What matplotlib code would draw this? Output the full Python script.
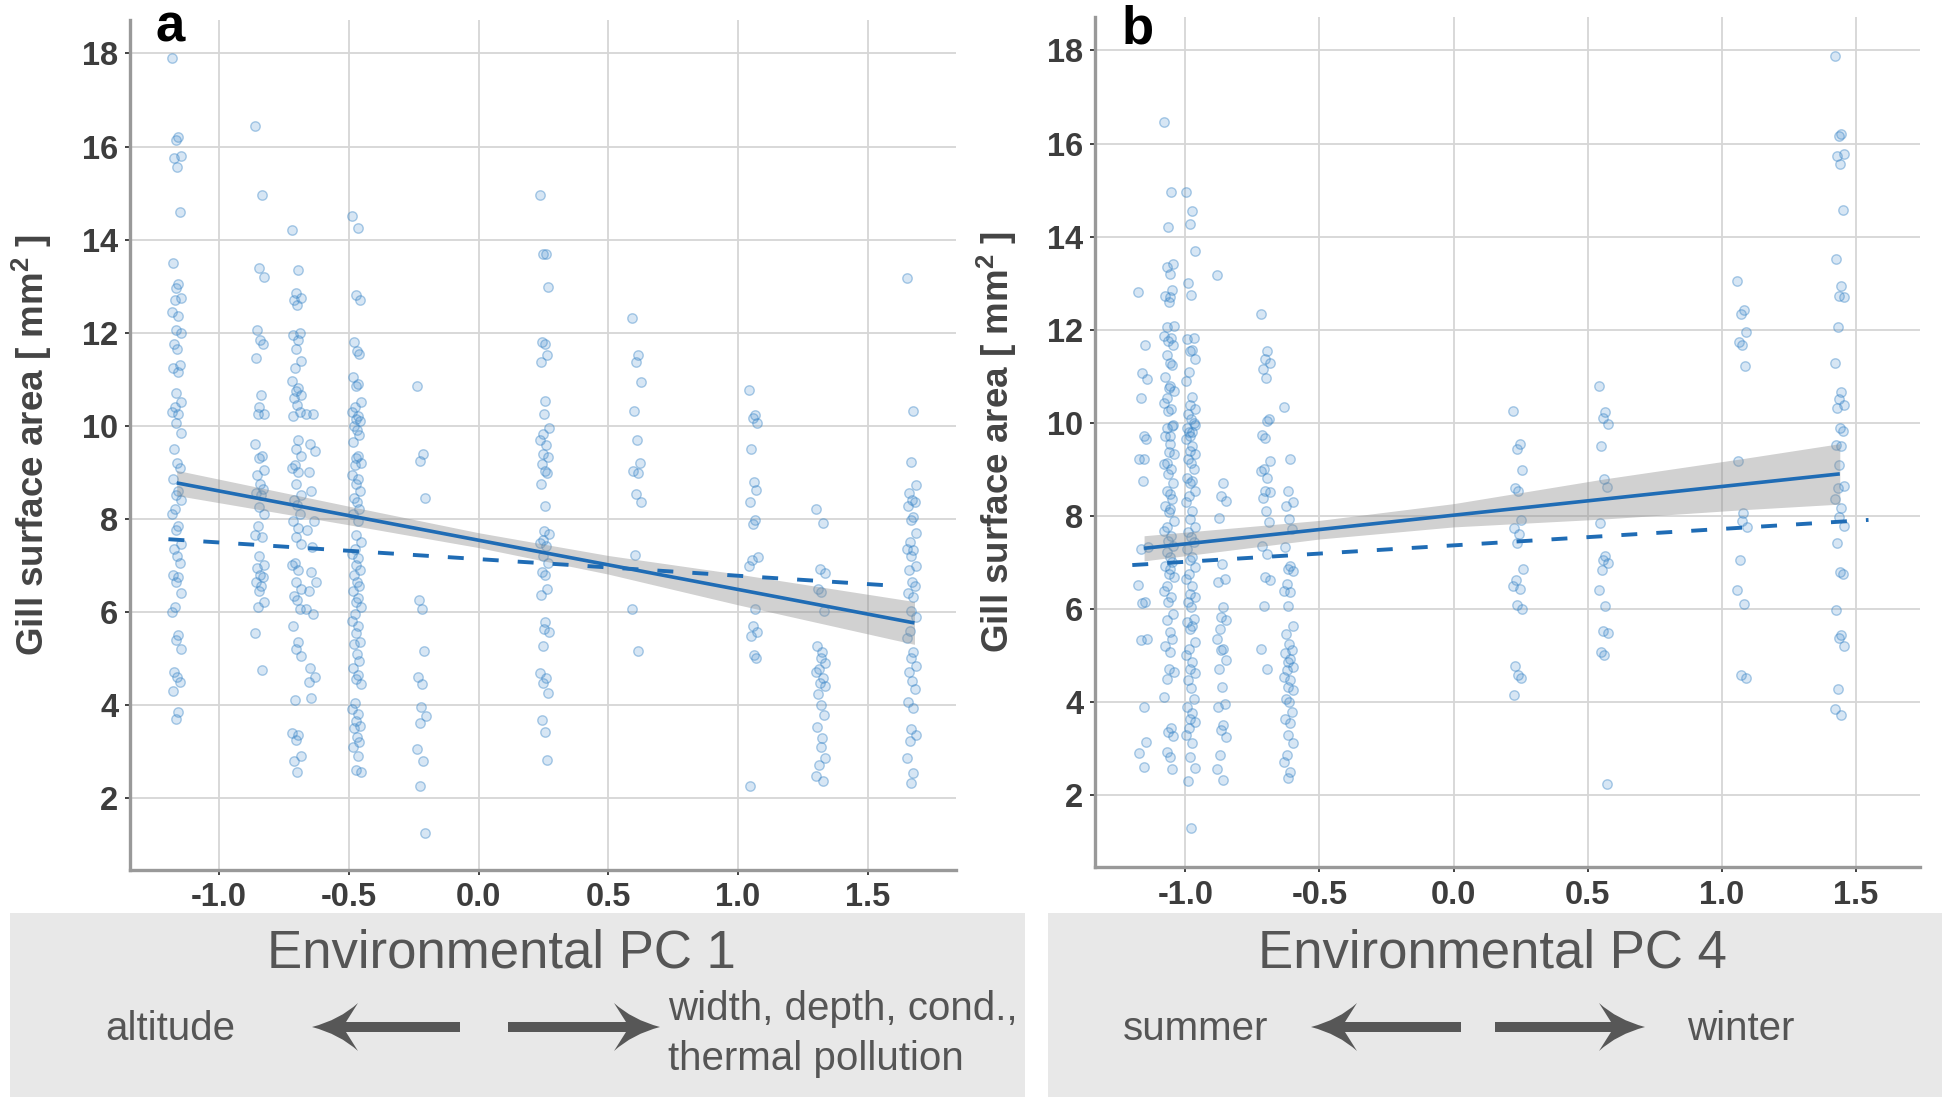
import numpy as np
import matplotlib
matplotlib.use("Agg")
import matplotlib.pyplot as plt
from matplotlib.colors import to_rgba
from matplotlib.path import Path
from matplotlib.patches import PathPatch, Rectangle

plt.rcParams['font.family'] = ['Liberation Sans', 'DejaVu Sans']
plt.rcParams['axes.unicode_minus'] = False
plt.rcParams['mathtext.fontset'] = 'custom'
plt.rcParams['mathtext.rm'] = 'Liberation Sans'
plt.rcParams['mathtext.default'] = 'regular'

# ---- panel a: gill surface area by site, against environmental PC 1 ----
pc1_sites = [-1.163, -0.842, -0.70, -0.645, -0.47, -0.22, 0.254, 0.61, 1.06, 1.32, 1.67]
gill_pc1 = [
    [17.9, 16.2, 16.15, 15.8, 15.75, 15.55, 14.6, 13.5, 13.05, 12.95, 12.75, 12.7, 12.45, 12.35,
     12.05, 12.0, 11.75, 11.65, 11.3, 11.25, 11.15, 10.7, 10.5, 10.4, 10.3, 10.25, 10.05, 9.85,
     9.5, 9.2, 9.1, 8.85, 8.6, 8.5, 8.4, 8.2, 8.1, 7.85, 7.75, 7.45, 7.35, 7.2, 7.05, 6.8, 6.75,
     6.65, 6.4, 6.1, 6.0, 5.5, 5.4, 5.2, 4.7, 4.6, 4.5, 4.3, 3.85, 3.7],
    [16.45, 14.95, 13.4, 13.2, 12.05, 11.85, 11.75, 11.45, 10.65, 10.4, 10.25, 10.25, 9.6, 9.35,
     9.3, 9.05, 8.95, 8.75, 8.65, 8.55, 8.5, 8.25, 8.1, 7.85, 7.65, 7.6, 7.2, 7.0, 6.95, 6.8,
     6.75, 6.65, 6.55, 6.45, 6.2, 6.1, 5.55, 4.75],
    [14.2, 13.35, 12.85, 12.75, 12.7, 12.6, 12.0, 11.95, 11.85, 11.65, 11.4, 11.25, 10.95, 10.8,
     10.75, 10.65, 10.6, 10.45, 10.3, 10.2, 9.7, 9.5, 9.35, 9.15, 9.1, 9.0, 8.75, 8.5, 8.4, 8.3,
     8.1, 7.95, 7.8, 7.6, 7.45, 7.05, 7.0, 6.9, 6.65, 6.5, 6.35, 6.25, 6.05, 5.7, 5.35, 5.2, 5.05,
     4.1, 3.4, 3.35, 3.25, 2.9, 2.8, 2.55],
    [10.25, 10.25, 9.6, 9.45, 9.0, 8.6, 7.95, 7.75, 7.4, 6.85, 6.65, 6.45, 6.05, 5.95, 4.8, 4.6,
     4.5, 4.15],
    [14.5, 14.25, 12.8, 12.7, 11.8, 11.6, 11.55, 11.05, 10.9, 10.85, 10.5, 10.4, 10.3, 10.2,
     10.15, 10.1, 10.0, 9.9, 9.8, 9.65, 9.35, 9.3, 9.2, 9.15, 8.95, 8.85, 8.75, 8.6, 8.45, 8.35,
     8.2, 8.1, 7.95, 7.65, 7.5, 7.35, 7.25, 7.15, 7.0, 6.9, 6.8, 6.65, 6.55, 6.45, 6.3, 6.2, 6.1,
     5.95, 5.8, 5.7, 5.55, 5.35, 5.3, 5.1, 4.95, 4.8, 4.65, 4.55, 4.45, 4.05, 3.9, 3.8, 3.65,
     3.55, 3.5, 3.3, 3.2, 3.1, 2.9, 2.6, 2.55],
    [10.85, 9.4, 9.25, 8.45, 6.25, 6.05, 5.15, 4.6, 4.45, 3.95, 3.75, 3.6, 3.05, 2.8, 2.25, 1.25],
    [14.96, 13.7, 13.68, 12.99, 11.79, 11.75, 11.53, 11.37, 10.53, 10.26, 9.95, 9.83, 9.7, 9.58,
     9.4, 9.33, 9.17, 9.02, 8.98, 8.74, 8.27, 7.73, 7.67, 7.54, 7.48, 7.42, 7.2, 7.05, 6.86, 6.8,
     6.5, 6.37, 5.78, 5.63, 5.57, 5.26, 4.68, 4.58, 4.46, 4.25, 3.68, 3.41, 2.81],
    [12.32, 11.52, 11.37, 10.94, 10.31, 9.69, 9.2, 9.02, 8.98, 8.53, 8.37, 7.21, 6.07, 5.16],
    [10.77, 10.24, 10.17, 10.05, 9.49, 8.78, 8.62, 8.35, 7.98, 7.89, 7.17, 7.11, 6.99, 6.06,
     5.69, 5.57, 5.47, 5.07, 5.01, 2.26],
    [8.22, 7.91, 6.93, 6.83, 6.49, 6.43, 6.02, 5.26, 5.14, 5.01, 4.89, 4.77, 4.70, 4.58, 4.48,
     4.40, 4.24, 3.99, 3.78, 3.53, 3.28, 3.10, 2.85, 2.70, 2.46, 2.36],
    [13.17, 10.31, 9.22, 8.72, 8.56, 8.41, 8.35, 8.28, 8.04, 7.98, 7.69, 7.51, 7.36, 7.33, 7.2,
     6.99, 6.9, 6.65, 6.56, 6.40, 6.31, 6.02, 5.88, 5.59, 5.44, 5.14, 5.01, 4.83, 4.70, 4.51,
     4.33, 4.06, 3.94, 3.47, 3.35, 3.22, 2.85, 2.54, 2.32],
]
fit_pc1_x = [-1.163, 1.68]
fit_pc1_y = [8.77, 5.76]
band_pc1_x = [-1.163, -0.5, 0.0, 0.5, 1.0, 1.68]
band_pc1_lo = [8.50, 7.87, 7.38, 6.81, 6.15, 5.30]
band_pc1_hi = [9.04, 8.27, 7.70, 7.21, 6.81, 6.22]
dash_pc1_x = [-1.195, 1.60]
dash_pc1_y = [7.56, 6.56]

# ---- panel b: same fish against environmental PC 4 ----
pc4_sites = [-1.157, -1.06, -0.98, -0.864, -0.70, -0.615, 0.24, 0.56, 1.076, 1.44]
gill_pc4 = [
    [12.81, 11.66, 11.07, 10.94, 10.52, 9.71, 9.64, 9.23, 9.21, 8.74, 7.32, 7.29, 6.52, 6.14,
     6.12, 5.34, 5.33, 3.88, 3.13, 2.91, 2.59],
    [16.46, 14.95, 14.21, 13.41, 13.34, 13.2, 12.86, 12.73, 12.71, 12.59, 12.07, 12.05, 11.86,
     11.82, 11.75, 11.68, 11.46, 11.29, 11.25, 10.98, 10.79, 10.75, 10.68, 10.54, 10.43, 10.3,
     10.25, 9.96, 9.89, 9.71, 9.93, 9.71, 9.54, 9.36, 9.33, 9.14, 9.11, 9.0, 8.89, 8.71, 8.54,
     8.46, 8.36, 8.21, 8.14, 8.07, 7.89, 7.75, 7.68, 7.57, 7.46, 7.36, 7.21, 7.11, 7.0, 6.93,
     6.86, 6.75, 6.68, 6.5, 6.39, 6.25, 6.14, 5.89, 5.75, 5.5, 5.36, 5.21, 5.07, 4.71, 4.64,
     4.5, 4.11, 3.43, 3.36, 3.26, 2.93, 2.81, 2.55],
    [14.96, 14.54, 14.26, 13.7, 13.0, 12.74, 11.82, 11.79, 11.57, 11.54, 11.37, 11.09, 10.89,
     10.55, 10.39, 10.29, 10.18, 10.07, 10.0, 9.89, 9.79, 9.71, 9.96, 9.79, 9.64, 9.5, 9.39,
     9.32, 9.21, 9.14, 9.0, 8.82, 8.75, 8.71, 8.54, 8.43, 8.29, 8.11, 7.93, 7.75, 7.64, 7.54,
     7.43, 7.29, 7.11, 7.04, 6.89, 6.75, 6.64, 6.5, 6.32, 6.25, 6.14, 6.04, 5.79, 5.71, 5.64,
     5.57, 5.29, 5.14, 5.0, 4.86, 4.71, 4.61, 4.46, 4.29, 4.07, 3.89, 3.75, 3.64, 3.57, 3.43,
     3.29, 3.11, 2.82, 2.57, 2.29, 1.29],
    [13.18, 8.71, 8.43, 8.32, 7.96, 6.96, 6.64, 6.57, 6.04, 5.82, 5.75, 5.57, 5.36, 5.14, 5.11,
     4.89, 4.71, 4.32, 3.96, 3.89, 3.5, 3.39, 3.25, 2.86, 2.55, 2.32],
    [12.34, 11.54, 11.36, 11.29, 11.16, 10.96, 10.07, 9.73, 10.04, 9.68, 9.18, 9.0, 8.96, 8.82,
     8.54, 8.5, 8.39, 8.11, 7.86, 7.36, 7.18, 6.68, 6.61, 6.07, 5.14, 4.71],
    [10.34, 9.21, 8.54, 8.29, 8.21, 7.93, 7.71, 7.32, 6.93, 6.86, 6.82, 6.54, 6.39, 6.36, 6.07,
     5.64, 5.46, 5.25, 5.11, 5.04, 4.93, 4.86, 4.75, 4.68, 4.54, 4.46, 4.32, 4.25, 4.07, 4.0,
     3.79, 3.64, 3.54, 3.29, 3.11, 2.86, 2.71, 2.5, 2.36],
    [10.25, 9.54, 9.43, 8.99, 8.59, 8.53, 7.91, 7.73, 7.6, 7.42, 6.86, 6.62, 6.49, 6.43, 6.09,
     6.0, 4.77, 4.58, 4.52, 4.15],
    [10.78, 10.22, 10.11, 9.98, 9.49, 8.80, 8.62, 7.85, 7.14, 7.05, 6.99, 6.84, 6.41, 6.06,
     5.53, 5.47, 5.07, 5.01, 2.23],
    [13.05, 12.42, 12.33, 11.96, 11.74, 11.67, 11.21, 9.17, 8.06, 7.88, 7.75, 7.05, 6.40, 6.10,
     4.58, 4.52],
    [17.89, 16.2, 16.17, 15.78, 15.73, 15.57, 14.58, 13.51, 12.94, 12.73, 12.7, 12.05, 11.28,
     10.65, 10.51, 10.38, 10.32, 9.89, 9.83, 9.52, 9.49, 9.09, 8.65, 8.59, 8.35, 8.16, 7.98,
     7.79, 7.42, 6.80, 6.74, 5.98, 5.44, 5.38, 5.2, 4.27, 3.84, 3.72],
]
fit_pc4_x = [-1.154, 1.44]
fit_pc4_y = [7.30, 8.90]
band_pc4_x = [-1.154, -0.5, 0.0, 0.56, 1.08, 1.44]
band_pc4_lo = [7.03, 7.50, 7.76, 7.93, 8.13, 8.25]
band_pc4_hi = [7.57, 7.90, 8.26, 8.79, 9.23, 9.55]
dash_pc4_x = [-1.198, 1.547]
dash_pc4_y = [6.94, 7.91]

x_ticks = [-1.0, -0.5, 0.0, 0.5, 1.0, 1.5]
y_ticks = [2, 4, 6, 8, 10, 12, 14, 16, 18]

# fixed horizontal spread so points in a site column don't sit on top of each other
JITTER = [-0.018, 0.006, -0.004, 0.015, -0.010, 0.001, 0.011, -0.015, 0.004, -0.002, 0.017, -0.007]

BLUE = '#1f6cb5'
POINT = '#3a86c8'
TEXT = '#555555'
W, H = 1946, 1103


def draw_panel(ax, sites, values, fit_x, fit_y, band_x, band_lo, band_hi, dash_x, dash_y, xlim):
    for site, vals in zip(sites, values):
        xs = site + np.resize(JITTER, len(vals))
        ax.scatter(xs, vals, s=46, marker='o', facecolors=[to_rgba(POINT, 0.2)],
                   edgecolors=[to_rgba(POINT, 0.42)], linewidths=1.0, zorder=2)
    ax.fill_between(band_x, band_lo, band_hi, color='#8c8c8c', alpha=0.4, lw=0, zorder=3)
    ax.plot(fit_x, fit_y, color=BLUE, lw=2.6, solid_capstyle='butt', zorder=4)
    ax.plot(dash_x, dash_y, color=BLUE, lw=2.8, dashes=(4.1, 4.9), zorder=4)

    ax.set_xlim(*xlim)
    ax.set_ylim(0.45, 18.72)
    ax.set_xticks(x_ticks)
    ax.set_xticklabels([f"{t:.1f}" for t in x_ticks])
    ax.set_yticks(y_ticks)
    ax.grid(True, color='#d6d6d6', lw=1.3)
    ax.set_axisbelow(True)
    for side in ('top', 'right'):
        ax.spines[side].set_visible(False)
    for side in ('left', 'bottom'):
        ax.spines[side].set_color('#999999')
        ax.spines[side].set_linewidth(2.4)
    ax.tick_params(axis='both', length=3.5, width=1.3, color='#333333',
                   labelsize=23.5, labelcolor='#3d3d3d')
    ax.tick_params(axis='x', pad=5.5)
    ax.tick_params(axis='y', pad=5)
    for lab in ax.get_xticklabels() + ax.get_yticklabels():
        lab.set_fontweight('bold')
    ax.set_ylabel('Gill surface area [ mm$^{2}$ ]', fontsize=26.5, fontweight='bold', color='#444444')
    ax.yaxis.set_label_coords(-0.092, 0.5)


def arrow(ax, x_tail, x_tip, y, t=5, head_len=46, head_half=24, notch=12):
    d = 1 if x_tip > x_tail else -1
    xb = x_tip - d * head_len
    xn = x_tip - d * (head_len - notch)
    xc = x_tip - d * head_len * 0.6
    verts = [(x_tail, y - t), (xn, y - t), (xb, y - head_half),
             (xc, y - head_half * 0.3), (x_tip, y),
             (xc, y + head_half * 0.3), (xb, y + head_half),
             (xn, y + t), (x_tail, y + t), (x_tail, y - t)]
    codes = [Path.MOVETO, Path.LINETO, Path.LINETO,
             Path.CURVE3, Path.CURVE3,
             Path.CURVE3, Path.CURVE3,
             Path.LINETO, Path.LINETO, Path.CLOSEPOLY]
    ax.add_patch(PathPatch(Path(verts, codes), fc='#575757', ec='none'))


fig = plt.figure(figsize=(W / 100, H / 100), dpi=100)

ax_a = fig.add_axes([130 / W, 1 - 870 / H, 826 / W, 850 / H])
draw_panel(ax_a, pc1_sites, gill_pc1, fit_pc1_x, fit_pc1_y, band_pc1_x, band_pc1_lo,
           band_pc1_hi, dash_pc1_x, dash_pc1_y, (-1.343, 1.84))

ax_b = fig.add_axes([1095 / W, 1 - 867 / H, 825 / W, 850 / H])
draw_panel(ax_b, pc4_sites, gill_pc4, fit_pc4_x, fit_pc4_y, band_pc4_x, band_pc4_lo,
           band_pc4_hi, dash_pc4_x, dash_pc4_y, (-1.337, 1.739))

# overlay in pixel coordinates for the grey axis-meaning boxes and panel letters
ov = fig.add_axes([0, 0, 1, 1], zorder=5)
ov.set_xlim(0, W)
ov.set_ylim(H, 0)
ov.axis('off')

ov.add_patch(Rectangle((10, 913), 1015, 184, fc='#e8e8e8', ec='none'))
ov.add_patch(Rectangle((1048, 913), 894, 184, fc='#e8e8e8', ec='none'))

ov.text(501, 967, 'Environmental PC 1', fontsize=38, color=TEXT, ha='center', va='baseline')
ov.text(1492, 967, 'Environmental PC 4', fontsize=38, color=TEXT, ha='center', va='baseline')

ov.text(170, 1040, 'altitude', fontsize=29, color=TEXT, ha='center', va='baseline')
ov.text(668, 1020, 'width, depth, cond.,', fontsize=29, color=TEXT, ha='left', va='baseline')
ov.text(668, 1070, 'thermal pollution', fontsize=29, color=TEXT, ha='left', va='baseline')
ov.text(1196, 1040, 'summer', fontsize=29, color=TEXT, ha='center', va='baseline')
ov.text(1741, 1040, 'winter', fontsize=29, color=TEXT, ha='center', va='baseline')

arrow(ov, 460, 312, 1027)
arrow(ov, 508, 660, 1027)
arrow(ov, 1461, 1311, 1027)
arrow(ov, 1495, 1645, 1027)

ov.text(170, 42, 'a', fontsize=38, fontweight='bold', color='black', ha='center', va='baseline')
ov.text(1138, 43, 'b', fontsize=38, fontweight='bold', color='black', ha='center', va='baseline')

fig.savefig('out.png', dpi=100)
